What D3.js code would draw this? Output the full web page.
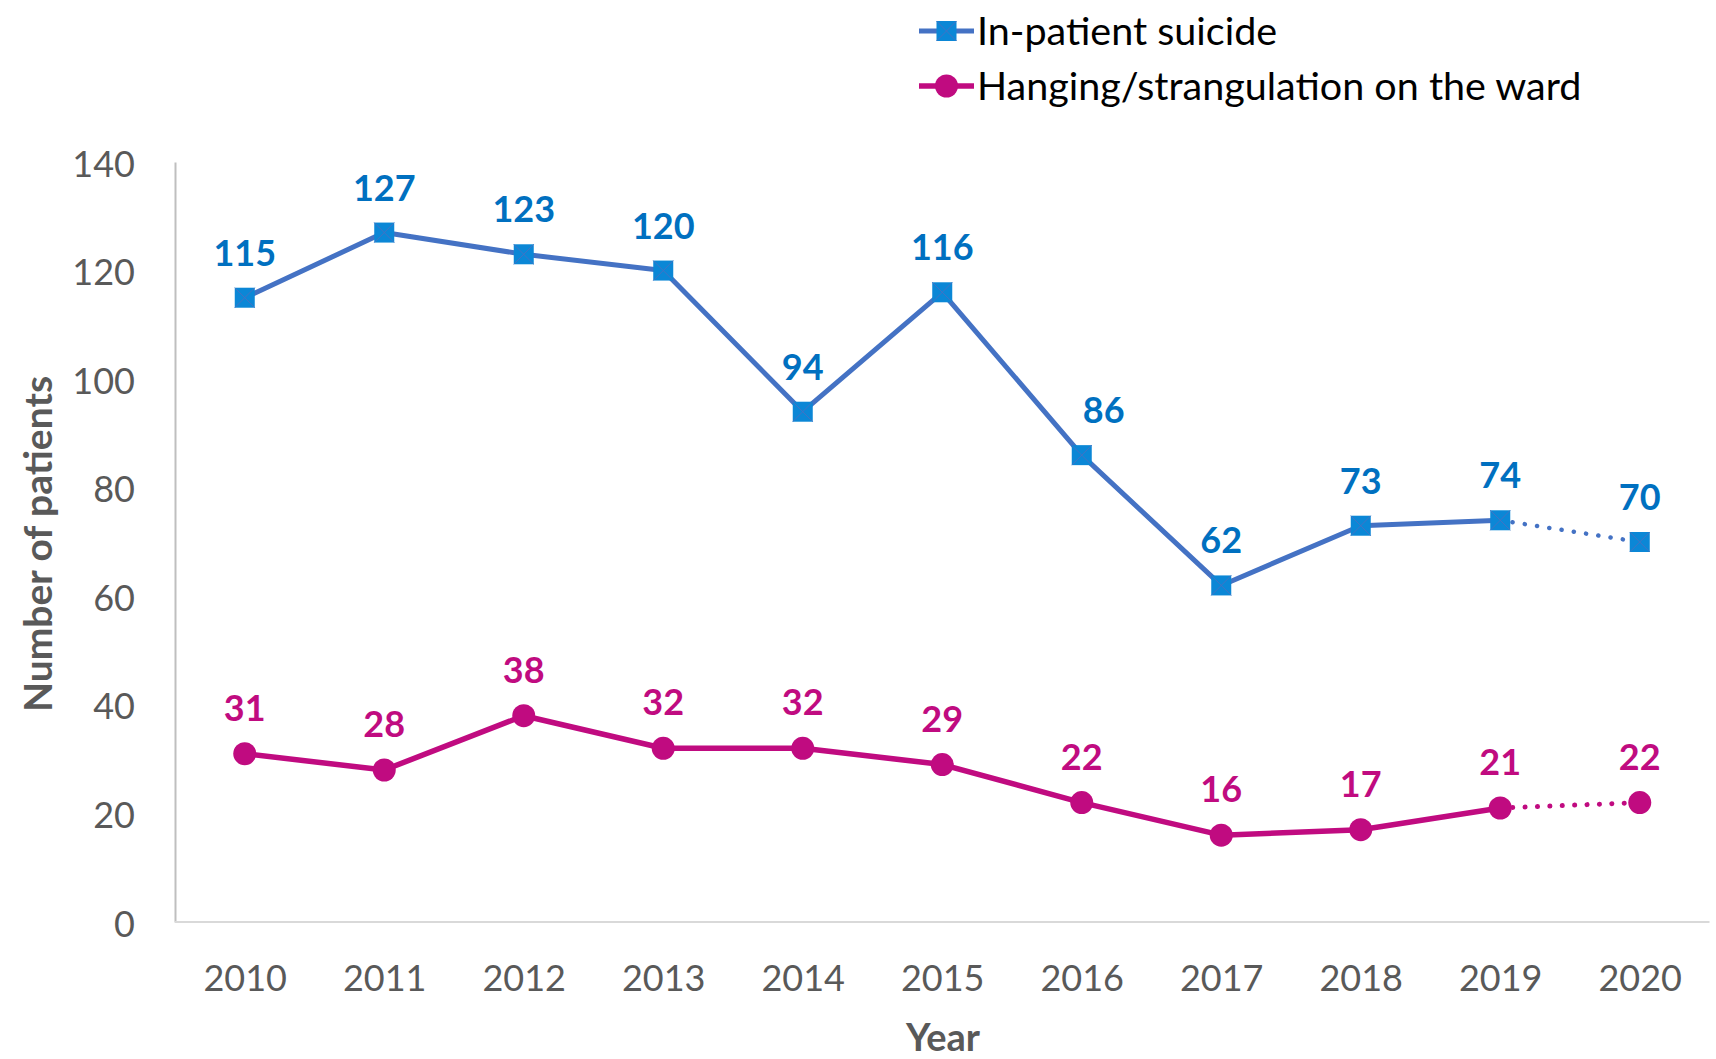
<!DOCTYPE html>
<html>
<head>
<meta charset="utf-8">
<script src="https://cdn.jsdelivr.net/npm/d3@7"></script>
<style>
  body { margin: 0; background: #fff; }
  svg { display: block; font-family: Lato, "Open Sans", sans-serif; }
</style>
</head>
<body>
<svg></svg>
<script>
// chart values
const years = ["2010", "2011", "2012", "2013", "2014", "2015", "2016", "2017", "2018", "2019", "2020"];
const suicide = [115, 127, 123, 120, 94, 116, 86, 62, 73, 74, 70];
const hanging = [31, 28, 38, 32, 32, 29, 22, 16, 17, 21, 22];
const yTicks = [0, 20, 40, 60, 80, 100, 120, 140];
const seriesNames = ["In-patient suicide", "Hanging/strangulation on the ward"];

const width = 1716;
const height = 1059;

const svg = d3.select("svg")
    .attr("width", width)
    .attr("height", height);

// scales
const xScale = d3.scalePoint()
    .domain(years)
    .range([175, 1709.5])
    .padding(0.5);

const yScale = d3.scaleLinear()
    .domain([0, 140])
    .range([922, 162]);

const blueLine = "#4472C4";
const blueMark = "#0B87D6";
const blueText = "#0070C0";
const pink = "#C00B80";
const gray = "#595959";

// axes
const yAxis = d3.axisLeft(yScale).tickValues(yTicks).tickSize(0).tickPadding(40);
const gy = svg.append("g")
    .attr("transform", "translate(175,0)")
    .call(yAxis);
gy.select(".domain").attr("stroke", "#BFBFBF").attr("stroke-width", 2);
gy.selectAll("text").attr("fill", gray).attr("font-size", 36).attr("font-family", "Lato")
    .attr("dy", "0.39em");

const xAxis = d3.axisBottom(xScale).tickSize(0).tickPadding(43);
const gx = svg.append("g")
    .attr("transform", "translate(0,922)")
    .call(xAxis);
gx.select(".domain").attr("stroke", "#D9D9D9").attr("stroke-width", 2)
    .attr("d", "M175,0H1709.5");
gx.selectAll("text").attr("fill", gray).attr("font-size", 36).attr("font-family", "Lato");

// axis titles
svg.append("text")
    .attr("transform", "translate(52,544) rotate(-90)")
    .attr("text-anchor", "middle")
    .attr("fill", gray)
    .attr("font-size", 39)
    .attr("font-weight", "bold")
    .text("Number of patients");

svg.append("text")
    .attr("x", 943)
    .attr("y", 1051)
    .attr("text-anchor", "middle")
    .attr("fill", gray)
    .attr("font-size", 38)
    .attr("font-weight", "bold")
    .text("Year");

// lines: solid up to 2019, dotted for 2020
function drawSeries(values, color, width, cls) {
    const pts = years.map((y, i) => [xScale(y), yScale(values[i])]);
    const line = d3.line();
    svg.append("path")
        .attr("class", cls)
        .attr("d", line(pts.slice(0, pts.length - 1)))
        .attr("fill", "none")
        .attr("stroke", color)
        .attr("stroke-width", width)
        .attr("stroke-linejoin", "round");
    svg.append("path")
        .attr("d", line(pts.slice(pts.length - 2)))
        .attr("fill", "none")
        .attr("stroke", color)
        .attr("stroke-width", width - 0.5)
        .attr("stroke-linecap", "round")
        .attr("stroke-dasharray", "0.1,12.3");
}

drawSeries(suicide, blueLine, 5, "suicide");
drawSeries(hanging, pink, 5.5, "hanging");

// square markers with the little cross
const sq = 20;
const squares = svg.selectAll("g.sq")
    .data(suicide)
    .enter()
    .append("g")
    .attr("class", "sq")
    .attr("transform", (d, i) => `translate(${xScale(years[i])},${yScale(d)})`);
squares.append("rect")
    .attr("x", -sq / 2).attr("y", -sq / 2)
    .attr("width", sq).attr("height", sq)
    .attr("fill", blueMark);
squares.append("path")
    .attr("d", `M${-sq / 2},${-sq / 2}L${sq / 2},${sq / 2}M${sq / 2},${-sq / 2}L${-sq / 2},${sq / 2}`)
    .attr("stroke", blueLine)
    .attr("stroke-width", 1);

// circle markers
svg.selectAll("circle.hang")
    .data(hanging)
    .enter()
    .append("circle")
    .attr("class", "hang")
    .attr("cx", (d, i) => xScale(years[i]))
    .attr("cy", d => yScale(d))
    .attr("r", 11.5)
    .attr("fill", pink);

// data labels
const dxOffset = { "2016": 22 };
svg.selectAll("text.lblS")
    .data(suicide)
    .enter()
    .append("text")
    .attr("class", "lblS")
    .attr("x", (d, i) => xScale(years[i]) + (dxOffset[years[i]] || 0))
    .attr("y", d => yScale(d) - 32)
    .attr("text-anchor", "middle")
    .attr("fill", blueText)
    .attr("font-size", 36)
    .attr("font-weight", "bold")
    .text(d => d);

svg.selectAll("text.lblH")
    .data(hanging)
    .enter()
    .append("text")
    .attr("class", "lblH")
    .attr("x", (d, i) => xScale(years[i]))
    .attr("y", d => yScale(d) - 33)
    .attr("text-anchor", "middle")
    .attr("fill", pink)
    .attr("font-size", 36)
    .attr("font-weight", "bold")
    .text(d => d);

// legend
const legend = svg.append("g").attr("transform", "translate(919,0)");
const legRows = [31, 86];
seriesNames.forEach((name, i) => {
    const g = legend.append("g").attr("transform", `translate(0,${legRows[i]})`);
    g.append("line")
        .attr("x1", 0).attr("x2", 55)
        .attr("stroke", i === 0 ? blueLine : pink)
        .attr("stroke-width", i === 0 ? 5 : 5.5);
    if (i === 0) {
        g.append("rect").attr("x", 17.5).attr("y", -10).attr("width", 20).attr("height", 20).attr("fill", blueMark);
        g.append("path").attr("d", "M17.5,-10L37.5,10M37.5,-10L17.5,10").attr("stroke", blueLine).attr("stroke-width", 1);
    } else {
        g.append("circle").attr("cx", 27.5).attr("r", 11.5).attr("fill", pink);
    }
    g.append("text")
        .attr("x", 58)
        .attr("y", 14)
        .attr("fill", "#000")
        .attr("font-size", 39.5)
        .text(name);
});
</script>
</body>
</html>
